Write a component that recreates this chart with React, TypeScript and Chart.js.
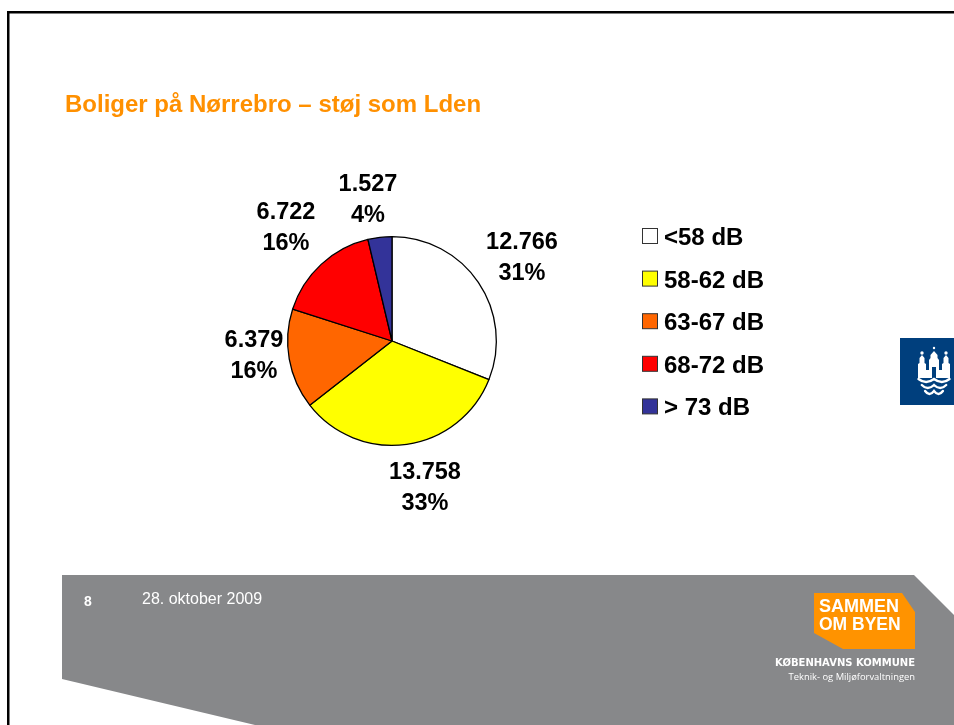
import React, { useEffect, useRef } from "react";
import { Chart, registerables } from "chart.js";

Chart.register(...registerables);

const categories = ["<58 dB", "58-62 dB", "63-67 dB", "68-72 dB", "> 73 dB"];
const values = [12766, 13758, 6379, 6722, 1527];
const valueLabels = ["12.766", "13.758", "6.379", "6.722", "1.527"];
const percentLabels = ["31%", "33%", "16%", "16%", "4%"];
const colors = ["#FFFFFF", "#FFFF00", "#FF6600", "#FF0000", "#333399"];
const labelCentres = [[522, 256], [425, 486], [254, 354], [286, 226], [368, 198]];

const titleText = "Boliger på Nørrebro – støj som Lden";
const pageNumber = "8";
const dateText = "28. oktober 2009";
const FONT = '"Liberation Sans", Arial, sans-serif';

function poly(ctx: CanvasRenderingContext2D, pts: number[][], fill: string) {
  ctx.fillStyle = fill;
  ctx.beginPath();
  pts.forEach((p, i) => (i ? ctx.lineTo(p[0], p[1]) : ctx.moveTo(p[0], p[1])));
  ctx.closePath();
  ctx.fill();
}

function text(ctx: CanvasRenderingContext2D, s: string, x: number, y: number, font: string, fill: string, align: CanvasTextAlign = "left") {
  ctx.font = font;
  ctx.fillStyle = fill;
  ctx.textAlign = align;
  ctx.textBaseline = "alphabetic";
  ctx.fillText(s, x, y);
}

function drawCrest(ctx: CanvasRenderingContext2D) {
  const navy = "#003F7D";
  const w = "#FFFFFF";
  poly(ctx, [[900, 338], [954, 338], [954, 405], [900, 405]], navy);
  // side towers
  for (const x of [922, 946]) {
    poly(ctx, [[x - 4, 378], [x - 4, 364], [x - 2.5, 363], [x - 2.5, 358], [x, 355], [x + 2.5, 358], [x + 2.5, 363], [x + 4, 364], [x + 4, 378]], w);
    ctx.fillStyle = w;
    ctx.beginPath();
    ctx.arc(x, 353, 1.7, 0, Math.PI * 2);
    ctx.fill();
  }
  // centre tower
  poly(ctx, [[929, 378], [929, 360], [930.5, 358], [930.5, 355], [934, 351], [937.5, 355], [937.5, 358], [939, 360], [939, 378]], w);
  ctx.fillStyle = w;
  ctx.beginPath();
  ctx.arc(934, 348, 1.2, 0, Math.PI * 2);
  ctx.fill();
  poly(ctx, [[926, 370], [929, 370], [929, 378], [926, 378]], w);
  poly(ctx, [[939, 370], [942, 370], [942, 378], [939, 378]], w);
  poly(ctx, [[932, 367], [936, 367], [936, 379], [932, 379]], navy);
  // waves
  ctx.strokeStyle = w;
  ctx.lineWidth = 2.4;
  ctx.lineCap = "round";
  for (const y of [379, 385, 391]) {
    const inset = (y - 379) * 0.55;
    ctx.beginPath();
    ctx.moveTo(918.5 + inset, y);
    ctx.quadraticCurveTo(926 + inset / 2, y + 6, 934, y);
    ctx.quadraticCurveTo(942 - inset / 2, y + 6, 949.5 - inset, y);
    ctx.stroke();
  }
  ctx.lineCap = "butt";
}

const slideBack = {
  id: "slideBack",
  beforeDraw(chart: any) {
    const ctx: CanvasRenderingContext2D = chart.ctx;
    ctx.save();
    poly(ctx, [[0, 0], [954, 0], [954, 725], [0, 725]], "#FFFFFF");
    poly(ctx, [[7, 11], [954, 11], [954, 13.5], [9.5, 13.5], [9.5, 725], [7, 725]], "#000000");
    poly(ctx, [[62, 575], [914, 575], [954, 615], [954, 725], [255, 725], [62, 679]], "#87888A");
    poly(ctx, [[814, 593], [902, 593], [915, 612], [915, 649], [843, 649], [814, 633]], "#FF9300");
    drawCrest(ctx);
    text(ctx, titleText, 65, 112, `bold 24px ${FONT}`, "#FF9000");
    text(ctx, pageNumber, 84, 606, `bold 14px ${FONT}`, "#FFFFFF");
    text(ctx, dateText, 142, 604, `16px ${FONT}`, "#FFFFFF");
    text(ctx, "SAMMEN", 819, 612, `bold 18px ${FONT}`, "#FFFFFF");
    text(ctx, "OM BYEN", 819, 630, `bold 17.5px ${FONT}`, "#FFFFFF");
    text(ctx, "KØBENHAVNS KOMMUNE", 915, 666, `bold 10px "DejaVu Sans", sans-serif`, "#FFFFFF", "right");
    text(ctx, "Teknik- og Miljøforvaltningen", 915, 680, `9.4px "Open Sans", sans-serif`, "#FFFFFF", "right");
    ctx.restore();
  },
};

const slideFront = {
  id: "slideFront",
  afterDraw(chart: any) {
    const ctx: CanvasRenderingContext2D = chart.ctx;
    ctx.save();
    categories.forEach((c, i) => {
      const y = 236 + i * 42.6;
      ctx.fillStyle = colors[i];
      ctx.fillRect(642.5, y - 7.5, 15, 15);
      ctx.strokeStyle = "#333333";
      ctx.lineWidth = 1;
      ctx.strokeRect(642.5, y - 7.5, 15, 15);
      text(ctx, c, 664, y + 9, `bold 24px ${FONT}`, "#000000");
    });
    valueLabels.forEach((v, i) => {
      const [x, y] = labelCentres[i];
      text(ctx, v, x, y - 7, `bold 23.5px ${FONT}`, "#000000", "center");
      text(ctx, percentLabels[i], x, y + 24, `bold 23.5px ${FONT}`, "#000000", "center");
    });
    ctx.restore();
  },
};

export default function App() {
  const ref = useRef<HTMLCanvasElement>(null);
  useEffect(() => {
    const chart = new Chart(ref.current!, {
      type: "pie",
      data: {
        labels: categories,
        datasets: [{ data: values, backgroundColor: colors, borderColor: "#000000", borderWidth: 1.3, borderAlign: "center" }],
      },
      options: {
        responsive: false,
        animation: false,
        layout: { padding: { left: 287, right: 457, top: 236, bottom: 279 } },
        plugins: { legend: { display: false }, tooltip: { enabled: false }, title: { display: false } },
      },
      plugins: [slideBack, slideFront],
    } as any);
    return () => chart.destroy();
  }, []);
  return (
    <canvas ref={ref} width={954} height={725} style={{ position: "absolute", left: 0, top: 0, width: 954, height: 725 }} />
  );
}
